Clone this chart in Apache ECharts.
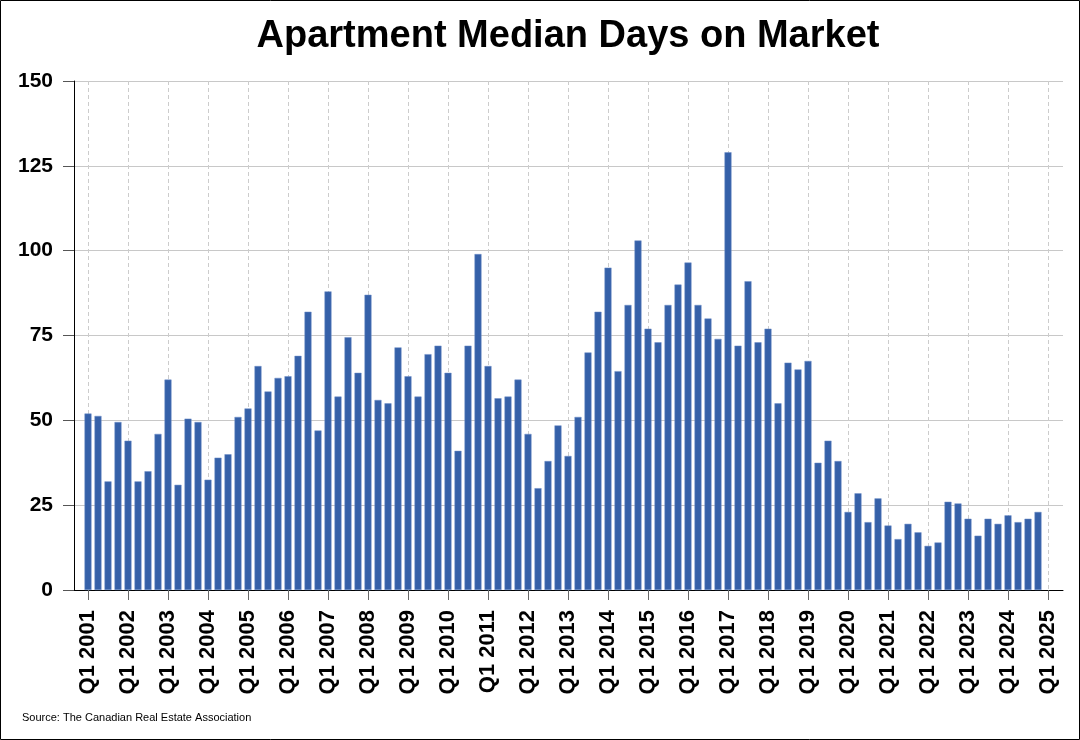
<!DOCTYPE html>
<html>
<head>
<meta charset="utf-8">
<script src="https://cdn.jsdelivr.net/npm/echarts@6/dist/echarts.min.js"></script>
<style>
html,body{margin:0;padding:0;background:#fff;}
#chart{width:1080px;height:740px;}
</style>
</head>
<body>
<div id="chart"></div>
<script>
// Quarterly values, Q1 2001 .. Q4 2024
const values2001 = [52, 51.3, 32, 49.5];
const values2002 = [44, 32, 35, 46];
const values2003 = [62, 31, 50.5, 49.5];
const values2004 = [32.5, 39, 40, 51];
const values2005 = [53.5, 66, 58.5, 62.5];
const values2006 = [63, 69, 82, 47];
const values2007 = [88, 57, 74.5, 64];
const values2008 = [87, 56, 55, 71.5];
const values2009 = [63, 57, 69.5, 72];
const values2010 = [64, 41, 72, 99];
const values2011 = [66, 56.5, 57, 62];
const values2012 = [46, 30, 38, 48.5];
const values2013 = [39.5, 51, 70, 82];
const values2014 = [95, 64.5, 84, 103];
const values2015 = [77, 73, 84, 90];
const values2016 = [96.5, 84, 80, 74];
const values2017 = [129, 72, 91, 73];
const values2018 = [77, 55, 67, 65];
const values2019 = [67.5, 37.5, 44, 38];
const values2020 = [23, 28.5, 20, 27];
const values2021 = [19, 15, 19.5, 17];
const values2022 = [13, 14, 26, 25.5];
const values2023 = [21, 16, 21, 19.5];
const values2024 = [22, 20, 21, 23];

const tickLabels = ['Q1 2001','Q1 2002','Q1 2003','Q1 2004','Q1 2005','Q1 2006','Q1 2007','Q1 2008',
  'Q1 2009','Q1 2010','Q1 2011','Q1 2012','Q1 2013','Q1 2014','Q1 2015','Q1 2016','Q1 2017',
  'Q1 2018','Q1 2019','Q1 2020','Q1 2021','Q1 2022','Q1 2023','Q1 2024','Q1 2025'];

const allValues = [].concat(values2001, values2002, values2003, values2004, values2005, values2006,
  values2007, values2008, values2009, values2010, values2011, values2012, values2013, values2014,
  values2015, values2016, values2017, values2018, values2019, values2020, values2021, values2022,
  values2023, values2024);
const barData = allValues.map((v, i) => [i, v]);
const tickPositions = tickLabels.map((_, k) => k * 4);

const FONT = '"Liberation Sans", Arial, sans-serif';
const chart = echarts.init(document.getElementById('chart'), null, {renderer: 'canvas'});
chart.setOption({
  animation: false,
  backgroundColor: '#ffffff',
  grid: {left: 74, right: 17, top: 81, bottom: 150, containLabel: false},
  xAxis: {
    type: 'value',
    min: -1.4, max: 97.5,
    axisLine: {show: true, onZero: false, lineStyle: {color: '#000', width: 1}},
    axisTick: {show: true, length: 10, customValues: tickPositions, lineStyle: {color: '#666'}},
    axisLabel: {
      show: true, rotate: 90, margin: 20, customValues: tickPositions,
      fontFamily: FONT, fontSize: 22, fontWeight: 'bold', color: '#000',
      formatter: v => tickLabels[Math.round(v / 4)]
    },
    splitLine: {show: true, lineStyle: {color: '#cccccc', type: [4, 3], width: 1}}
  },
  yAxis: {
    type: 'value', min: 0, max: 150, interval: 25,
    axisLine: {show: true, onZero: false, lineStyle: {color: '#000', width: 1}},
    axisTick: {show: true, length: 11, lineStyle: {color: '#555'}},
    axisLabel: {margin: 21, fontFamily: FONT, fontSize: 21, fontWeight: 'bold', color: '#000'},
    splitLine: {show: true, lineStyle: {color: '#c8c8c8', width: 1}}
  },
  series: [{
    type: 'bar',
    data: barData,
    barWidth: 7,
    itemStyle: {color: '#3560a8', borderColor: '#6f8fc8', borderWidth: 0.5}
  }],
  graphic: [
    {type: 'rect', shape: {x: 0.5, y: 0.5, width: 1079, height: 739},
     style: {fill: null, stroke: '#000', lineWidth: 1}, silent: true},
    {type: 'text', x: 568, y: 18,
     style: {text: 'Apartment Median Days on Market', fontFamily: FONT, fontSize: 38, fontWeight: 'bold',
             fill: '#000', align: 'center', verticalAlign: 'top'}},
    {type: 'text', left: 22, top: 712,
     style: {text: 'Source: The Canadian Real Estate Association', fontFamily: FONT, fontSize: 11, fill: '#000'}}
  ]
});
</script>
</body>
</html>
